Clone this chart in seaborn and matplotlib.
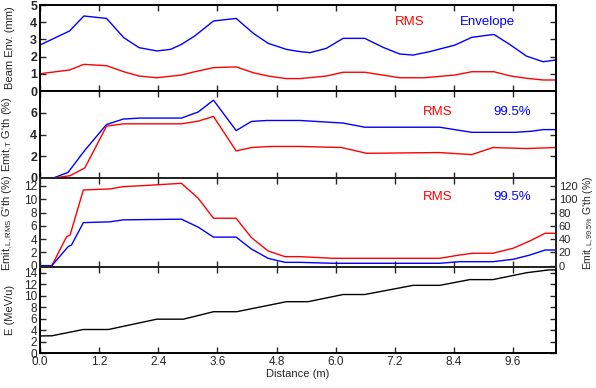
import matplotlib
matplotlib.use("Agg")
import matplotlib.pyplot as plt
import numpy as np
import seaborn as sns

# beam envelope (mm)
env_x = [0, 0.07, 0.6, 0.89, 1.35, 1.7, 2.01, 2.37, 2.65, 2.87, 3.14, 3.52, 3.98, 4.33, 4.63, 5.0,
         5.27, 5.48, 5.81, 6.15, 6.59, 6.96, 7.30, 7.57, 7.91, 8.42, 8.76, 9.21, 9.55, 9.87, 10.21, 10.45]
env_y = [2.67, 2.77, 3.49, 4.36, 4.22, 3.1, 2.52, 2.33, 2.42, 2.71, 3.2, 4.07, 4.22, 3.35, 2.77, 2.42,
         2.29, 2.23, 2.48, 3.06, 3.06, 2.54, 2.15, 2.09, 2.29, 2.67, 3.12, 3.29, 2.67, 2.03, 1.70, 1.80]
rms_x = [0, 0.07, 0.6, 0.89, 1.35, 1.7, 2.01, 2.37, 2.87, 3.14, 3.52, 3.98, 4.33, 4.63, 5.0, 5.27,
         5.81, 6.15, 6.59, 7.30, 7.8, 8.42, 8.76, 9.21, 9.55, 9.87, 10.21, 10.45]
rms_y = [0.99, 1.03, 1.22, 1.55, 1.47, 1.12, 0.87, 0.77, 0.93, 1.12, 1.36, 1.40, 1.06, 0.87, 0.72, 0.72,
         0.87, 1.09, 1.09, 0.77, 0.77, 0.93, 1.12, 1.12, 0.87, 0.74, 0.64, 0.64]

# transverse emittance growth (%)
t995_x = [0, 0.27, 0.57, 0.91, 1.35, 1.69, 2.03, 2.87, 3.21, 3.52, 3.98, 4.29, 4.6, 5.27, 5.5, 6.15,
          6.59, 8.11, 8.76, 9.63, 9.97, 10.21, 10.45]
t995_y = [0, 0, 0.52, 2.55, 4.92, 5.42, 5.51, 5.51, 6.07, 7.16, 4.36, 5.2, 5.29, 5.29, 5.23, 5.05,
          4.67, 4.67, 4.2, 4.2, 4.3, 4.45, 4.45]
trms_x = [0, 0.27, 0.61, 0.91, 1.35, 1.69, 2.87, 3.21, 3.52, 3.98, 4.29, 4.67, 5.27, 6.12, 6.63,
          8.11, 8.76, 9.19, 9.87, 10.45]
trms_y = [0, 0, 0.21, 0.93, 4.77, 4.98, 4.98, 5.23, 5.66, 2.49, 2.8, 2.9, 2.9, 2.8, 2.27,
          2.34, 2.15, 2.8, 2.71, 2.8]

# longitudinal emittance growth (%)
lrms_x = [0, 0.24, 0.54, 0.61, 0.88, 1.42, 1.69, 2.09, 2.87, 3.21, 3.52, 3.98, 4.29, 4.63, 4.97,
          5.27, 5.95, 8.11, 8.52, 8.78, 9.19, 9.6, 9.94, 10.25, 10.45]
lrms_y = [0, 0, 4.37, 4.62, 11.4, 11.55, 11.9, 12.05, 12.4, 10.15, 7.14, 7.14, 4.22, 2.21, 1.36,
          1.36, 1.11, 1.11, 1.61, 1.87, 1.87, 2.62, 3.72, 4.88, 4.88]
l995_x = [0, 0.24, 0.57, 0.64, 0.88, 1.42, 1.69, 2.87, 3.21, 3.52, 3.98, 4.29, 4.63, 4.97, 5.27,
          5.95, 8.11, 8.52, 9.19, 9.6, 9.94, 10.25, 10.45]
l995_y = [0, 0, 28.6, 31.2, 64.8, 66, 69, 70, 58, 43, 43, 25, 11, 5, 5,
          3.6, 3.6, 6, 6, 9.6, 16, 23.6, 23.6]

# energy (MeV/u)
e_x = [0, 0.24, 0.88, 1.39, 2.37, 2.91, 3.52, 3.99, 5.0, 5.44, 6.15, 6.59, 7.57, 8.11, 8.72,
       9.19, 9.87, 10.33, 10.45]
e_y = [2.97, 3.0, 4.1, 4.1, 5.9, 5.9, 7.2, 7.2, 8.95, 8.95, 10.2, 10.2, 11.8, 11.8, 12.8,
       12.8, 14.0, 14.5, 14.5]

x_ticks = [0.0, 1.2, 2.4, 3.6, 4.8, 6.0, 7.2, 8.4, 9.6]

sns.set_style("ticks")
plt.rcParams["font.family"] = ["Liberation Sans", "DejaVu Sans"]
plt.rcParams["mathtext.fontset"] = "custom"
plt.rcParams["mathtext.rm"] = "Liberation Sans"
plt.rcParams["mathtext.it"] = "Liberation Sans:italic"

fig = plt.figure(figsize=(5.96, 3.88), dpi=100)
L, W = 40 / 596, 516 / 596
edges = [5, 91, 178, 267, 353]
axes = []
for i in range(4):
    top, bot = edges[i], edges[i + 1]
    ax = fig.add_axes([L, 1 - bot / 388, W, (bot - top) / 388])
    axes.append(ax)

RED, BLUE = "#ff0000", "#0000ff"
lw = 1.0


def style(ax, bold, right=True):
    for s in ax.spines.values():
        s.set_linewidth(1.4)
        s.set_color("black")
    ax.tick_params(direction="in", length=4, width=1, top=True, right=right,
                   labelsize=9 if bold else 8.5, pad=2)
    for t in ax.get_yticklabels():
        t.set_fontweight("bold" if bold else "normal")
    ax.set_xlim(0, 10.47)
    ax.set_xticks(x_ticks)


def tags(ax, left_txt, right_txt, x1, x2, y):
    ax.text(x1, y, left_txt, color=RED, fontsize=9.5, transform=ax.transAxes, va="center")
    ax.text(x2, y, right_txt, color=BLUE, fontsize=9.5, transform=ax.transAxes, va="center")


# panel 1
ax = axes[0]
sns.lineplot(x=env_x, y=env_y, color=BLUE, lw=lw, ax=ax, estimator=None, sort=False)
sns.lineplot(x=rms_x, y=rms_y, color=RED, lw=lw, ax=ax, estimator=None, sort=False)
ax.set_ylim(0, 5)
ax.set_yticks(range(0, 6))
ax.set_ylabel("Beam Env. (mm)", fontsize=8)
ax.set_xticklabels([])
style(ax, True)
tags(ax, "RMS", "Envelope", 0.688, 0.814, 0.80)

# panel 2
ax = axes[1]
sns.lineplot(x=t995_x, y=t995_y, color=BLUE, lw=lw, ax=ax, estimator=None, sort=False)
sns.lineplot(x=trms_x, y=trms_y, color=RED, lw=lw, ax=ax, estimator=None, sort=False)
ax.set_ylim(0, 8)
ax.set_yticks([0, 2, 4, 6])
ax.set_ylabel("Emit$_{,\\mathrm{T}}$ G'th (%)", fontsize=8)
ax.set_xticklabels([])
style(ax, True)
tags(ax, "RMS", "99.5%", 0.742, 0.878, 0.76)

# panel 3
ax = axes[2]
sns.lineplot(x=lrms_x, y=lrms_y, color=RED, lw=lw, ax=ax, estimator=None, sort=False)
ax.set_ylim(-0.2, 13.2)
ax.set_yticks(range(0, 13, 2))
ax.set_ylabel("Emit$_{,\\mathrm{L,RMS}}$ G'th (%)", fontsize=8)
ax.set_xticklabels([])
style(ax, False, right=False)
ax2 = ax.twinx()
sns.lineplot(x=l995_x, y=l995_y, color=BLUE, lw=lw, ax=ax2, estimator=None, sort=False)
ax2.set_ylim(-2, 132)
ax2.set_yticks(range(0, 121, 20))
ax2.set_ylabel("Emit$_{,\\mathrm{L,99.5\\%}}$ G'th (%)", fontsize=7.5)
ax2.tick_params(direction="in", length=4, width=1, labelsize=8, pad=2)
for s in ax2.spines.values():
    s.set_linewidth(1.4)
tags(ax, "RMS", "99.5%", 0.742, 0.878, 0.79)

# panel 4
ax = axes[3]
sns.lineplot(x=e_x, y=e_y, color="black", lw=lw, ax=ax, estimator=None, sort=False)
ax.set_ylim(0, 15)
ax.set_yticks(range(0, 15, 2))
ax.set_ylabel("E (MeV/u)", fontsize=8)
style(ax, False)
ax.set_xticklabels([f"{v:.1f}" for v in x_ticks])
ax.set_xlabel("Distance (m)", fontsize=8, labelpad=1)

for a in axes:
    a.yaxis.set_label_coords(-0.048, 0.5)
ax2.yaxis.set_label_coords(1.049, 0.5)

fig.savefig("out.png", dpi=100)
